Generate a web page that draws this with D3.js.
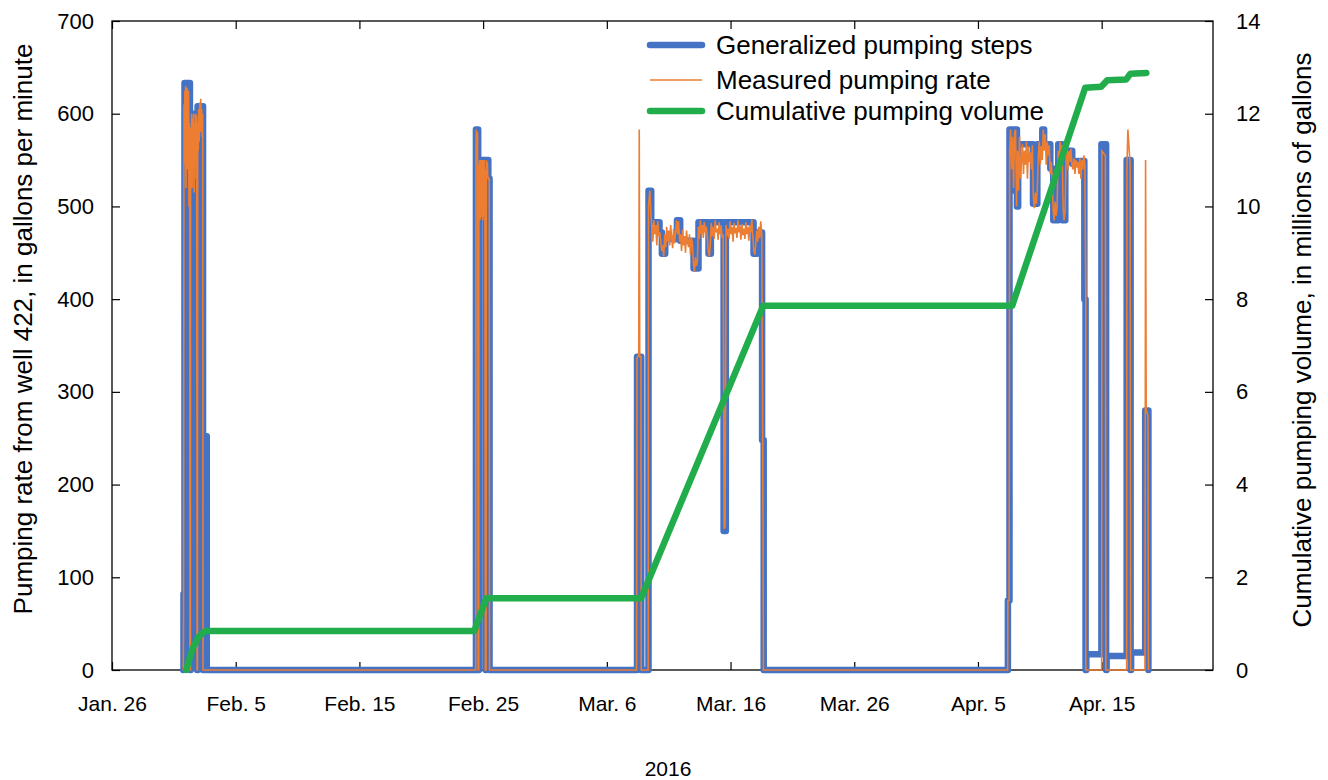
<!DOCTYPE html>
<html>
<head>
<meta charset="utf-8">
<script src="https://cdn.jsdelivr.net/npm/d3@7"></script>
<style>
body { margin: 0; background: #fff; }
text { font-family: "Liberation Sans", Arial, sans-serif; fill: #000; }
.narrow { font-family: "Liberation Sans Narrow", "Arial Narrow", "Liberation Sans", sans-serif; }
</style>
</head>
<body>
<script>
//days are counted from Jan. 26, 2016
var tickDates = ["2016-01-26", "2016-02-05", "2016-02-15", "2016-02-25", "2016-03-06",
    "2016-03-16", "2016-03-26", "2016-04-05", "2016-04-15"];
var tickLabels = ["Jan. 26", "Feb. 5", "Feb. 15", "Feb. 25", "Mar. 6",
    "Mar. 16", "Mar. 26", "Apr. 5", "Apr. 15"];
var rateTicks = [0, 100, 200, 300, 400, 500, 600, 700];
var volumeTicks = [0, 2, 4, 6, 8, 10, 12, 14];

//generalized pumping steps [day, gallons per minute]
var pumpingSteps = [
    [5.76, 0], [5.78, 82], [5.86, 633], [6.30, 0], [6.36, 585], [6.45, 600], [6.88, 0],
    [6.92, 608], [7.36, 0], [7.58, 252], [7.66, 0],
    [29.42, 583], [29.60, 0], [29.66, 550], [30.14, 495], [30.20, 0], [30.26, 550],
    [30.42, 530], [30.52, 0],
    [42.44, 338], [42.78, 0],
    [43.37, 517], [43.59, 483], [44.26, 472], [44.45, 449], [44.72, 465], [45.67, 485],
    [45.93, 463], [47.01, 433], [47.41, 483], [48.22, 449], [48.41, 483], [49.44, 150],
    [49.62, 483], [51.86, 449], [52.13, 472], [52.55, 248], [52.68, 0],
    [72.42, 75], [72.55, 583], [72.95, 517], [73.05, 583], [73.15, 500], [73.25, 567],
    [74.45, 503], [74.80, 567], [75.20, 583], [75.35, 567], [75.85, 541], [76.09, 485],
    [76.49, 567], [76.82, 485], [77.06, 560], [77.62, 546], [78.03, 549], [78.60, 400],
    [78.70, 0], [78.76, 17], [79.98, 567], [80.36, 0], [80.40, 15], [82.02, 550],
    [82.34, 0], [82.38, 19], [83.52, 280], [83.78, 0]
];

//measured pumping rate, sparse parts [day, gallons per minute]
var measuredFeb1 = [
    [5.76, 0], [5.78, 40], [5.82, 610], [5.86, 545], [5.89, 625], [5.92, 560], [5.95, 630],
    [5.98, 520], [6.01, 600], [6.04, 560], [6.07, 628], [6.10, 540], [6.13, 610], [6.16, 570],
    [6.19, 625], [6.22, 500], [6.25, 590], [6.28, 560], [6.30, 0], [6.34, 0], [6.36, 585],
    [6.40, 540], [6.44, 600], [6.48, 520], [6.52, 595], [6.56, 545], [6.60, 600], [6.64, 515],
    [6.68, 590], [6.72, 550], [6.76, 600], [6.80, 530], [6.84, 598], [6.88, 0], [6.91, 0],
    [6.93, 590], [6.97, 560], [7.01, 605], [7.05, 570], [7.09, 612], [7.13, 580], [7.17, 616],
    [7.21, 590], [7.25, 605], [7.29, 575], [7.33, 600], [7.36, 0]
];
var measuredFeb24 = [
    [29.40, 0], [29.42, 560], [29.45, 583], [29.50, 570], [29.55, 580], [29.60, 0], [29.64, 0],
    [29.66, 545], [29.69, 490], [29.72, 550], [29.75, 485], [29.78, 548], [29.81, 492],
    [29.84, 550], [29.87, 488], [29.90, 545], [29.93, 495], [29.96, 550], [29.99, 485],
    [30.02, 548], [30.05, 490], [30.08, 550], [30.11, 495], [30.14, 540], [30.18, 0],
    [30.24, 0], [30.26, 550], [30.30, 535], [30.34, 548], [30.38, 530], [30.42, 532],
    [30.46, 528], [30.50, 530], [30.52, 0]
];
var measuredMar7 = [
    [42.40, 0], [42.44, 336], [42.58, 340], [42.62, 583], [42.66, 338], [42.76, 338],
    [42.78, 0], [43.34, 0], [43.37, 500]
];
//logger readings every 0.08 day
var sampleStep = 0.08;
var marStart = 43.40;
var marValues = [
    505, 517, 492, 478, 462, 485, 470, 480, 458, 484, 468, 472, 462, 452, 458, 446,
    470, 456, 478, 462, 474, 458, 480, 466, 455, 476, 460, 472, 485, 470, 484,
    462, 470, 452, 475, 458, 468, 450, 474, 462, 456, 470, 448, 466, 460,
    438, 430, 445, 436, 442, 478, 465, 485, 470, 480, 466, 483, 472, 478, 468,
    452, 446, 458, 482, 468, 478, 465, 485, 472, 476, 464, 483, 470, 479, 466,
    470, 152, 155, 480, 468, 476, 465, 484, 470, 478, 462, 482, 471, 477, 466, 485,
    472, 479, 464, 481, 469, 476, 465, 483, 470, 478, 463, 480, 472, 486, 468,
    452, 448, 460, 474, 462, 478, 466, 484, 470, 248
];
var measuredMarEnd = [[52.66, 0], [72.40, 0], [72.42, 75], [72.52, 75]];
var aprStart = 72.56;
var aprValues = [
    560, 583, 540, 575, 520, 580, 583, 500, 560, 517, 575, 530,
    550, 567, 535, 560, 545, 570, 530, 565, 548, 558, 540, 566,
    510, 498, 515, 503, 520, 555, 570, 545, 565, 550,
    583, 560, 578, 545, 570, 555, 566, 535, 548, 530,
    495, 485, 505, 490, 500, 560, 545, 570, 552, 566, 500, 485, 495,
    550, 565, 540, 560, 548, 562, 545, 540, 552, 535, 550, 542,
    548, 535, 552, 530, 550, 540, 555, 545, 400
];
var measuredAprEnd = [
    [78.72, 0], [80.00, 0], [80.02, 560], [80.30, 555], [80.34, 0], [82.02, 0], [82.04, 540],
    [82.12, 583], [82.30, 545], [82.34, 0], [83.50, 0], [83.55, 550], [83.60, 280],
    [83.74, 275], [83.78, 0]
];

//cumulative pumping volume [day, millions of gallons]
var cumulativeVolume = [
    [6.0, 0], [6.5, 0.45], [7.0, 0.72], [7.54, 0.84], [29.28, 0.84], [30.25, 1.55],
    [42.77, 1.55], [52.64, 7.86], [72.77, 7.86], [78.67, 12.56], [79.96, 12.58],
    [80.45, 12.72], [81.99, 12.74], [82.31, 12.86], [83.61, 12.88]
];

var legendNames = ["Generalized pumping steps", "Measured pumping rate", "Cumulative pumping volume"];

window.onload = drawChart();

function drawChart() {
    var width = 1328,
        height = 780;
    var left = 112, right = 1213, top = 21, bottom = 670;

    var svg = d3.select("body")
        .append("svg")
        .attr("width", width)
        .attr("height", height);

    var base = Date.UTC(2016, 0, 26);
    function dayToDate(d) { return new Date(base + d * 864e5); }
    var parseDate = d3.utcParse("%Y-%m-%d");

    var x = d3.scaleUtc()
        .domain([dayToDate(0), dayToDate(89)])
        .range([left, right]);
    var yRate = d3.scaleLinear().domain([0, 700]).range([bottom, top]);
    var yVol = d3.scaleLinear().domain([0, 14]).range([bottom, top]);

    //build the measured series from its pieces
    function readings(start, values) {
        return values.map(function(v, i) { return [start + i * sampleStep, v]; });
    }
    var measured = [].concat(measuredFeb1, measuredFeb24, measuredMar7,
        readings(marStart, marValues), measuredMarEnd,
        readings(aprStart, aprValues), measuredAprEnd);

    //axes
    var xBottom = d3.axisBottom(x)
        .tickValues(tickDates.map(parseDate))
        .tickFormat(function(d, i) { return tickLabels[i]; })
        .tickSizeInner(-8).tickSizeOuter(0).tickPadding(26);
    var gx = svg.append("g").attr("transform", "translate(0," + bottom + ")").call(xBottom);

    var xTop = d3.axisTop(x)
        .tickValues(tickDates.map(parseDate))
        .tickFormat("")
        .tickSizeInner(-8).tickSizeOuter(0);
    svg.append("g").attr("transform", "translate(0," + top + ")").call(xTop);

    var gl = svg.append("g").attr("transform", "translate(" + left + ",0)")
        .call(d3.axisLeft(yRate).tickValues(rateTicks).tickSizeInner(-8).tickSizeOuter(0).tickPadding(18));

    var gr = svg.append("g").attr("transform", "translate(" + right + ",0)")
        .call(d3.axisRight(yVol).tickValues(volumeTicks).tickSizeInner(-8).tickSizeOuter(0).tickPadding(23));

    svg.selectAll(".domain").remove();
    svg.selectAll(".tick line").attr("stroke", "#000").attr("stroke-width", 1.2);
    svg.selectAll(".tick text").attr("fill", "#000")
        .style("font-family", "'Liberation Sans', Arial, sans-serif")
        .style("font-size", "22px");
    gx.selectAll("text")
        .style("font-family", "'Liberation Sans Narrow', 'Arial Narrow', sans-serif")
        .style("font-size", "21px");

    //plot frame
    svg.append("rect")
        .attr("x", left).attr("y", top)
        .attr("width", right - left).attr("height", bottom - top)
        .attr("fill", "none").attr("stroke", "#000").attr("stroke-width", 1.3);

    //series
    var stepLine = d3.line()
        .x(function(d) { return x(dayToDate(d[0])); })
        .y(function(d) { return yRate(d[1]); })
        .curve(d3.curveStepAfter);
    var rateLine = d3.line()
        .x(function(d) { return x(dayToDate(d[0])); })
        .y(function(d) { return yRate(d[1]); });
    var volumeLine = d3.line()
        .x(function(d) { return x(dayToDate(d[0])); })
        .y(function(d) { return yVol(d[1]); });

    svg.append("path")
        .datum(pumpingSteps)
        .attr("d", stepLine)
        .attr("fill", "none").attr("stroke", "#4472C4").attr("stroke-width", 6.5)
        .attr("stroke-linejoin", "round").attr("stroke-linecap", "round");

    svg.append("path")
        .datum(measured)
        .attr("d", rateLine)
        .attr("fill", "none").attr("stroke", "#ED7D31").attr("stroke-width", 1.6);

    svg.append("path")
        .datum(cumulativeVolume)
        .attr("d", volumeLine)
        .attr("fill", "none").attr("stroke", "#22AD4C").attr("stroke-width", 6.5)
        .attr("stroke-linejoin", "round").attr("stroke-linecap", "round");

    //legend
    var legendColors = ["#4472C4", "#ED7D31", "#22AD4C"];
    var legendWidths = [6.5, 1.4, 6.5];
    var legendY = [45, 80, 111];
    var legend = svg.append("g");
    legendNames.forEach(function(name, i) {
        legend.append("line")
            .attr("x1", 650).attr("x2", 702)
            .attr("y1", legendY[i]).attr("y2", legendY[i])
            .attr("stroke", legendColors[i]).attr("stroke-width", legendWidths[i])
            .attr("stroke-linecap", i === 1 ? "butt" : "round");
        legend.append("text")
            .attr("x", 716).attr("y", legendY[i] + 9)
            .style("font-size", "26px")
            .text(name);
    });

    //axis titles
    svg.append("text")
        .attr("transform", "translate(32,329) rotate(-90)")
        .attr("text-anchor", "middle")
        .style("font-size", "26px")
        .text("Pumping rate from well 422, in gallons per minute");

    svg.append("text")
        .attr("transform", "translate(1311,340) rotate(-90)")
        .attr("text-anchor", "middle")
        .style("font-size", "26px")
        .text("Cumulative pumping volume, in millions of gallons");

    svg.append("text")
        .attr("x", 668).attr("y", 776)
        .attr("text-anchor", "middle")
        .style("font-family", "'Liberation Sans Narrow', 'Arial Narrow', sans-serif")
        .style("font-size", "21px")
        .text("2016");
}
</script>
</body>
</html>
